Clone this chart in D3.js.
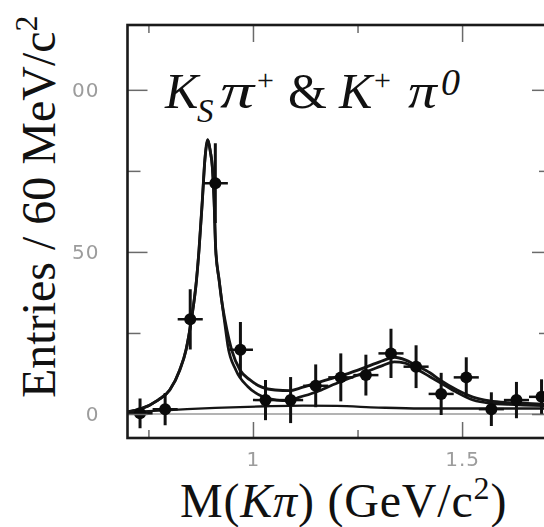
<!DOCTYPE html>
<html>
<head>
<meta charset="utf-8">
<script src="https://cdn.jsdelivr.net/npm/d3@7"></script>
<style>
body { margin: 0; background: #fff; }
svg { display: block; }
</style>
</head>
<body>
<svg id="chart" width="544" height="527"></svg>
<script>
// bin centres (GeV/c2), entries per 60 MeV and their errors
var mass    = [0.73, 0.79, 0.85, 0.91, 0.97, 1.03, 1.09, 1.15, 1.21, 1.27, 1.33, 1.39, 1.45, 1.51, 1.57, 1.63, 1.69];
var entries = [0.2, 1.5, 29.2, 71.2, 19.8, 4.3, 4.3, 8.7, 11.3, 12.0, 18.7, 14.6, 6.2, 11.3, 1.5, 4.3, 5.3];
var errors  = [4.6, 5.0, 9.3, 12.3, 8.6, 6.2, 7.1, 6.6, 7.4, 6.3, 7.6, 6.6, 6.5, 6.2, 5.2, 5.6, 5.4];
var binHalf = 0.03;

// full fit, sampled along the curve
var fitMass  = [0.70, 0.73, 0.773, 0.801, 0.825, 0.840, 0.853, 0.865, 0.871, 0.879, 0.885, 0.892, 0.898, 0.903, 0.907, 0.911, 0.919, 0.925, 0.933, 0.943, 0.949, 0.969, 0.993, 1.021, 1.053, 1.089, 1.112, 1.153, 1.191, 1.232, 1.273, 1.311, 1.338, 1.364, 1.388, 1.423, 1.447, 1.488, 1.526, 1.567, 1.608, 1.646, 1.715];
var fitTotal = [0.7, 1.5, 4.3, 7.4, 13.6, 19.8, 29.3, 41.4, 50.6, 66.0, 78.4, 84.6, 81.0, 76.0, 66.0, 50.6, 41.4, 35.2, 29.0, 22.8, 19.8, 13.6, 10.5, 8.3, 7.4, 7.2, 8.0, 9.6, 11.1, 12.7, 14.6, 16.5, 17.5, 16.7, 15.1, 12.7, 10.5, 7.4, 5.2, 4.0, 3.5, 3.3, 2.8];

// second fit curve (lower one in the tail and bump)
var altMass  = [0.70, 0.73, 0.773, 0.801, 0.825, 0.840, 0.853, 0.865, 0.871, 0.879, 0.885, 0.892, 0.898, 0.903, 0.907, 0.911, 0.919, 0.925, 0.933, 0.940, 0.959, 0.988, 1.024, 1.057, 1.084, 1.112, 1.153, 1.191, 1.232, 1.273, 1.311, 1.338, 1.364, 1.388, 1.423, 1.447, 1.488, 1.526, 1.567, 1.608, 1.715];
var altTotal = [0.7, 1.5, 4.3, 7.4, 13.6, 19.8, 29.3, 41.4, 50.6, 66.0, 78.4, 84.6, 81.0, 76.0, 66.0, 50.6, 41.4, 35.2, 27.5, 21.0, 13.6, 8.4, 5.3, 4.3, 4.1, 5.2, 6.9, 9.0, 11.1, 13.1, 15.0, 16.1, 15.7, 14.1, 11.5, 9.7, 6.6, 4.3, 3.3, 3.0, 2.5];

// background shape
var bkgMass = [0.70, 0.80, 0.91, 1.03, 1.12, 1.20, 1.30, 1.40, 1.55, 1.715];
var bkgVal  = [0.6, 1.2, 1.9, 2.4, 2.6, 2.5, 2.0, 1.7, 1.7, 1.7];

var xMajor = [1, 1.5], xMinor = [0.75, 1.25];
var yMajor = [0, 50, 100], yMinor = [25, 75];

var svg = d3.select('#chart');
var pLeft = 127.5, pRight = 552, pTop = 25, pBottom = 438;

var x = d3.scaleLinear().domain([0.70, 1.715]).range([pLeft, pRight]);
var y = d3.scaleLinear().domain([-7.4, 120]).range([pBottom, pTop]);

var defs = svg.append('defs');
defs.append('clipPath').attr('id', 'plotclip').append('rect')
	.attr('x', pLeft).attr('y', pTop).attr('width', pRight - pLeft).attr('height', pBottom - pTop);
defs.append('filter').attr('id', 'soft').append('feGaussianBlur').attr('stdDeviation', 0.6);

var plot = svg.append('g').attr('clip-path', 'url(#plotclip)');

// zero line
plot.append('line')
	.attr('x1', pLeft).attr('x2', pRight).attr('y1', y(0)).attr('y2', y(0))
	.attr('stroke', '#9a9a9a').attr('stroke-width', 1.6);

function zip(a, b) { return a.map(function(d, i) { return [d, b[i]]; }); }
var line = d3.line().x(d => x(d[0])).y(d => y(d[1])).curve(d3.curveMonotoneX);

plot.append('path').datum(zip(bkgMass, bkgVal))
	.attr('d', line).attr('fill', 'none').attr('stroke', '#151515').attr('stroke-width', 2.3);
plot.append('path').datum(zip(altMass, altTotal))
	.attr('d', line).attr('fill', 'none').attr('stroke', '#151515').attr('stroke-width', 2.7);
plot.append('path').datum(zip(fitMass, fitTotal))
	.attr('d', line).attr('fill', 'none').attr('stroke', '#151515').attr('stroke-width', 2.9);

var pts = mass.map(function(m, i) { return {m: m, v: entries[i], e: errors[i]}; });
var g = plot.selectAll('g.pt').data(pts).enter().append('g').attr('class', 'pt');
g.append('line')
	.attr('x1', d => x(d.m)).attr('x2', d => x(d.m))
	.attr('y1', d => y(d.v - d.e)).attr('y2', d => y(d.v + d.e))
	.attr('stroke', '#111').attr('stroke-width', 3);
g.append('line')
	.attr('x1', d => x(d.m - binHalf)).attr('x2', d => x(d.m + binHalf))
	.attr('y1', d => y(d.v)).attr('y2', d => y(d.v))
	.attr('stroke', '#111').attr('stroke-width', 2.5);
g.append('circle')
	.attr('cx', d => x(d.m)).attr('cy', d => y(d.v)).attr('r', 6)
	.attr('fill', '#0a0a0a');

// ticks
var tickColor = '#6a6a6a';
function styleAxis(sel) {
	sel.select('.domain').remove();
	sel.selectAll('.tick line').attr('stroke', tickColor).attr('stroke-width', 1.5);
	sel.selectAll('.tick text')
		.attr('fill', '#9c9c9c')
		.attr('font-family', 'DejaVu Sans, sans-serif')
		.attr('font-size', 20)
		.attr('letter-spacing', 1)
		.attr('filter', 'url(#soft)');
}
svg.append('g').attr('transform', 'translate(' + pLeft + ',0)')
	.call(d3.axisLeft(y).tickValues(yMajor).tickSize(-20).tickPadding(28).tickFormat(d3.format('d')))
	.call(styleAxis);
svg.append('g').attr('transform', 'translate(' + pLeft + ',0)')
	.call(d3.axisLeft(y).tickValues(yMinor).tickSize(-13).tickFormat(''))
	.call(styleAxis);
svg.append('g').attr('transform', 'translate(' + pRight + ',0)')
	.call(d3.axisRight(y).tickValues(yMajor).tickSize(-20).tickFormat(''))
	.call(styleAxis);
svg.append('g').attr('transform', 'translate(' + pRight + ',0)')
	.call(d3.axisRight(y).tickValues(yMinor).tickSize(-13).tickFormat(''))
	.call(styleAxis);
svg.append('g').attr('transform', 'translate(0,' + pBottom + ')')
	.call(d3.axisBottom(x).tickValues(xMajor).tickSize(-16).tickPadding(14).tickFormat(d3.format('')))
	.call(styleAxis);
svg.append('g').attr('transform', 'translate(0,' + pBottom + ')')
	.call(d3.axisBottom(x).tickValues(xMinor).tickSize(-8).tickFormat(''))
	.call(styleAxis);
svg.append('g').attr('transform', 'translate(0,' + pTop + ')')
	.call(d3.axisTop(x).tickValues(xMajor).tickSize(-17).tickFormat(''))
	.call(styleAxis);
svg.append('g').attr('transform', 'translate(0,' + pTop + ')')
	.call(d3.axisTop(x).tickValues(xMinor).tickSize(-8).tickFormat(''))
	.call(styleAxis);

// frame
svg.append('rect')
	.attr('x', pLeft).attr('y', pTop).attr('width', pRight - pLeft).attr('height', pBottom - pTop)
	.attr('fill', 'none').attr('stroke', '#1a1a1a').attr('stroke-width', 2.6);

// y axis title on its own white patch (it hides the "1" of 100)
svg.append('rect').attr('x', 0).attr('y', 0).attr('width', 72).attr('height', 420).attr('fill', '#fff');
var yt = svg.append('text')
	.attr('transform', 'translate(55,398) rotate(-90)')
	.attr('font-family', 'Liberation Serif, Times New Roman, serif')
	.attr('font-size', 48).attr('fill', '#111');
yt.append('tspan').text('Entries / 60 MeV/c');
yt.append('tspan').attr('font-size', 32).attr('dy', -18).text('2');

// x axis title
var xt = svg.append('text')
	.attr('x', 180).attr('y', 517)
	.attr('font-family', 'Liberation Serif, Times New Roman, serif')
	.attr('font-size', 48).attr('letter-spacing', 0.8).attr('fill', '#111');
xt.append('tspan').text('M(');
xt.append('tspan').attr('font-style', 'italic').text('K\u03c0');
xt.append('tspan').text(') (GeV/c');
xt.append('tspan').attr('font-size', 32).attr('dy', -18).text('2');
xt.append('tspan').attr('dy', 18).text(')');

// channel label
var serif = 'Liberation Serif, Times New Roman, serif';
var title = svg.append('text')
	.attr('font-family', serif)
	.attr('font-size', 50).attr('fill', '#111');
title.append('tspan').attr('x', 165).attr('y', 108).attr('font-style', 'italic').text('K');
title.append('tspan').attr('x', 197).attr('y', 122).attr('font-style', 'italic').attr('font-size', 33).text('S');
title.append('tspan').attr('x', 257).attr('y', 90).attr('font-size', 30).text('+');
title.append('tspan').attr('x', 288).attr('y', 108).text('&');
title.append('tspan').attr('x', 339).attr('y', 108).attr('font-style', 'italic').text('K');
title.append('tspan').attr('x', 374).attr('y', 90).attr('font-size', 30).text('+');
title.append('tspan').attr('x', 441).attr('y', 95).attr('font-style', 'italic').attr('font-size', 38).text('0');
// the pi glyphs are wider in the original, so they get a horizontal stretch
[[220, 1.36], [408, 1.15]].forEach(function(p) {
	svg.append('text')
		.attr('transform', 'translate(' + p[0] + ',108) scale(' + p[1] + ',1)')
		.attr('font-family', serif).attr('font-size', 50).attr('font-style', 'italic')
		.attr('fill', '#111').text('\u03c0');
});
</script>
</body>
</html>
